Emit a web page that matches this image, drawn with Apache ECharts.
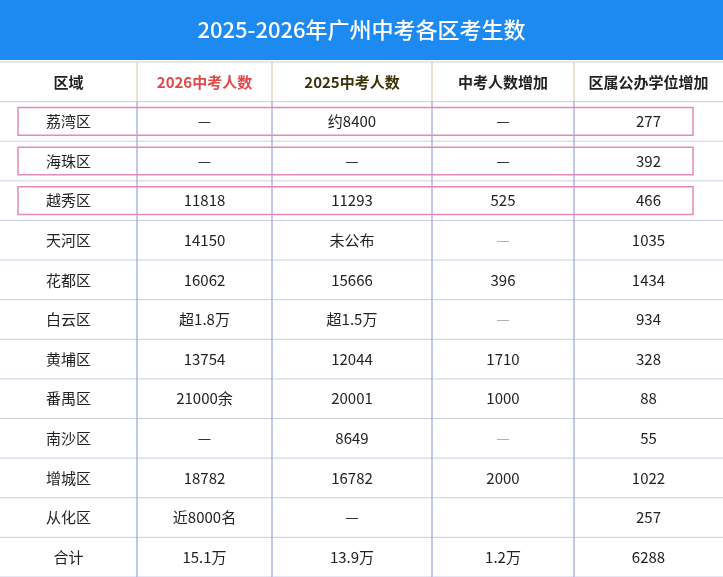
<!DOCTYPE html>
<html><head><meta charset="utf-8">
<script src="https://cdn.jsdelivr.net/npm/echarts@6/dist/echarts.min.js"></script>
<style>html,body{margin:0;padding:0;background:#fff}#c{width:723px;height:577px}</style>
</head><body><div id="c"></div>
<script>
const title = '2025-2026年广州中考各区考生数';
const headers = ['区域','2026中考人数','2025中考人数','中考人数增加','区属公办学位增加'];
const districts = ['荔湾区','海珠区','越秀区','天河区','花都区','白云区','黄埔区','番禺区','南沙区','增城区','从化区','合计'];
const exam2026 = ['—','—','11818','14150','16062','超1.8万','13754','21000余','—','18782','近8000名','15.1万'];
const exam2025 = ['约8400','—','11293','未公布','15666','超1.5万','12044','20001','8649','16782','—','13.9万'];
const increase = ['—','—','525','—','396','—','1710','1000','—','2000','','1.2万'];
const seats = ['277','392','466','1035','1434','934','328','88','55','1022','257','6288'];
const highlighted = ['荔湾区','海珠区','越秀区'];

const colEdges = [0,137,272,432,574,723];
const rows = ['header'].concat(districts);
const data = [];
rows.forEach((r,i)=>{
  const vals = i===0 ? headers : [districts[i-1],exam2026[i-1],exam2025[i-1],increase[i-1],seats[i-1]];
  vals.forEach((v,j)=>data.push([j,i,v]));
});
const hlData = highlighted.map(d=>[0,districts.indexOf(d)+1]);

const chart = echarts.init(document.getElementById('c'));
chart.setOption({
  animation:false,
  title:{text:title,left:'center',top:14,textStyle:{color:'#fff',fontSize:22,fontWeight:500,fontFamily:'Noto Sans CJK SC'}},
  graphic:[{type:'rect',z:-1,shape:{x:0,y:0,width:723,height:60},style:{fill:'#1d8af2'}}],
  grid:{left:0,right:0,top:62,bottom:0},
  xAxis:{type:'value',min:0,max:723,show:false},
  yAxis:{type:'category',data:rows,inverse:true,show:false},
  series:[{
    type:'custom',
    data:data,
    renderItem:function(params,api){
      const j=api.value(0), i=api.value(1), txt=data[params.dataIndex][2];
      const x0=api.coord([colEdges[j],i])[0], x1=api.coord([colEdges[j+1],i])[0];
      const yc=api.coord([0,i])[1], h=api.size([0,1])[1];
      const y0=yc-h/2;
      const isHead=i===0;
      let color='#222', weight='normal';
      if(isHead){weight='bold'; color= j===1?'#e0484a':(j===2?'#3b3208':'#222');}
      if(!isHead && j===3 && txt==='—' && i>3) color='#aaa';
      const children=[
        {type:'line',shape:{x1:x0,y1:y0+h,x2:x1,y2:y0+h},style:{stroke:'#c8cde6',lineWidth:1}},
        {type:'text',style:{text:txt,x:(x0+x1)/2,y:yc,align:'center',verticalAlign:'middle',fill:color,font:weight+' 15px "Noto Sans CJK SC"'}}
      ];
      if(j<4) children.push({type:'line',shape:{x1:x1,y1:y0,x2:x1,y2:y0+h},style:{stroke:isHead?'#d9c79a':'#8592dc',lineWidth:1}});
      if(i===0) children.push({type:'line',shape:{x1:x0,y1:y0,x2:x1,y2:y0},style:{stroke:'#c8cde6',lineWidth:1}});
      return {type:'group',children:children};
    }
  },{
    type:'custom',
    data:hlData,
    z:5,
    renderItem:function(params,api){
      const yc=api.coord([0,api.value(1)])[1], h=api.size([0,1])[1];
      const xa=api.coord([18,0])[0], xb=api.coord([693,0])[0];
      return {type:'rect',shape:{x:xa,y:yc-h/2+6,width:xb-xa,height:h-12},style:{fill:'none',stroke:'#e58ab8',lineWidth:1.5}};
    }
  }]
});
</script></body></html>
